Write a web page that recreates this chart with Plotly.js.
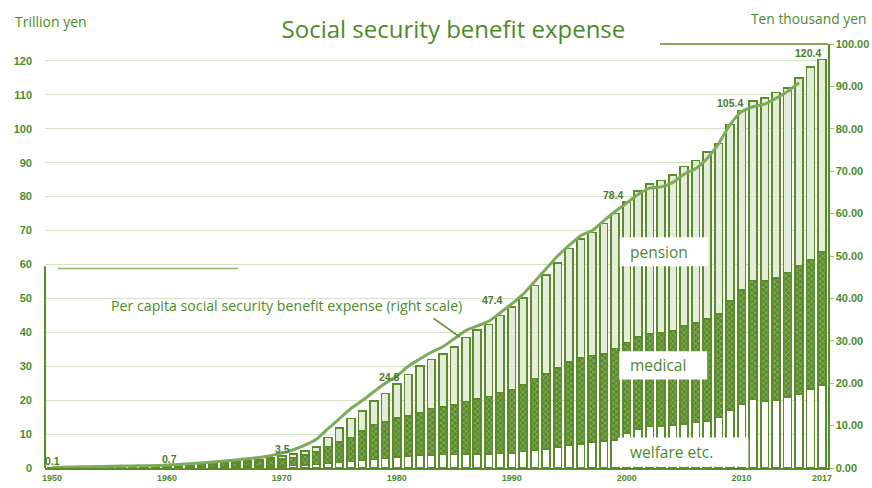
<!DOCTYPE html>
<html>
<head>
<meta charset="utf-8">
<script src="https://cdn.plot.ly/plotly-3.0.1.min.js"></script>
<style>html,body{margin:0;padding:0;background:#fff;}#chart{width:872px;height:488px;}</style>
</head>
<body>
<div id="chart"></div>
<script>
// Fiscal years 1950–2017
const years = [];
for (let y = 1950; y <= 2017; y++) years.push(y);

// Trillion yen (left scale)
const welfare = [
  0.07,0.08,0.09,0.11,0.12,0.15,0.15,0.16,0.18,0.20,
  0.30,0.31,0.33,0.36,0.40,0.43,0.47,0.51,0.55,0.60,
  0.60,0.70,0.85,1.00,1.30,1.60,1.90,2.30,2.50,2.80,
  3.2,3.5,3.8,3.9,4.0,4.0,4.1,4.2,4.2,4.3,
  4.4,4.9,5.3,5.7,6.2,6.7,7.1,7.6,7.9,8.2,
  10.3,11.6,12.2,12.3,12.7,13.0,13.4,13.9,14.9,17.0,
  18.8,20.2,19.8,20.1,20.9,21.7,23.2,24.4
];
const medical = [
  0.06,0.07,0.09,0.12,0.14,0.19,0.20,0.21,0.23,0.25,
  0.27,0.37,0.48,0.60,0.76,0.90,1.08,1.26,1.47,1.67,
  2.06,2.44,2.90,3.70,5.00,6.20,7.10,8.70,10.3,10.7,
  11.6,11.8,12.5,13.6,13.9,14.5,15.5,16.2,16.9,18.0,
  18.7,19.5,21.1,22.1,23.3,24.5,25.4,25.6,25.8,27.0,
  26.7,27.0,27.4,27.5,27.7,28.9,29.3,30.1,30.6,32.2,
  33.6,35.1,35.4,36.0,36.7,38.0,38.3,39.3
];
const pension = [
  0.00,0.01,0.02,0.03,0.04,0.05,0.05,0.06,0.07,0.08,
  0.08,0.11,0.14,0.18,0.23,0.27,0.33,0.41,0.50,0.61,
  0.86,0.96,1.19,1.54,2.72,4.0,5.6,5.9,7.0,8.5,
  10.0,12.3,13.8,14.5,15.7,17.2,18.9,20.3,21.2,22.7,
  24.3,25.7,27.4,29.0,31.0,33.5,35.0,36.2,38.4,39.8,
  41.4,43.0,44.2,45.0,46.0,47.0,48.0,49.1,50.2,52.1,
  53.0,53.0,53.9,54.6,54.5,55.2,56.8,56.7
];

// Ten thousand yen (right scale), 1950–2015
const perCapitaYears = years.slice(0, 66);
const perCapita = [
  0.15,0.19,0.24,0.30,0.34,0.43,0.45,0.48,0.53,0.58,
  0.70,0.84,1.00,1.19,1.43,1.63,1.90,2.18,2.50,2.90,
  3.5,4.3,5.4,6.8,9.2,11.6,14.0,15.9,18.0,20.0,
  21.7,24.0,25.7,27.3,28.6,30.5,32.4,33.5,34.6,36.6,
  38.7,41.0,44.0,47.0,50.0,52.5,54.8,56.0,58.3,60.5,
  62.5,64.5,66.0,66.3,67.3,69.3,70.6,73.0,76.5,81.0,
  84.0,85.2,85.8,87.2,88.8,90.9
];

// Total labels
const labelYears = [1950,1960,1970,1980,1990,2000,2010,2017];
const labelText  = ['0.1','0.7','3.5','24.8','47.4','78.4','105.4','120.4'];
const labelTotal = [0.13,0.65,3.52,24.8,47.4,78.4,105.4,120.4];
const labelShift = [0,3,1,-7,-19,-13,-12,-14];

const xTicks = [1950,1960,1970,1980,1990,2000,2010,2017];

const G = '#5b8c2a';
const TXT = '#4e8a2c';
const FONT = 'Open Sans, sans-serif';

const traces = [
  {type:'bar', x:years, y:welfare, name:'welfare etc.',
   marker:{color:'#ffffff', line:{color:G, width:1.7}}, hoverinfo:'skip'},
  {type:'bar', x:years, y:medical, name:'medical',
   marker:{color:G, line:{color:G, width:1.7},
     pattern:{shape:'x', fgcolor:'#a8c48c', bgcolor:'#5a8b2b', size:4, solidity:0.25}}, hoverinfo:'skip'},
  {type:'bar', x:years, y:pension, name:'pension',
   marker:{color:'#e4ecda', line:{color:G, width:1.7}}, hoverinfo:'skip'},
  {type:'scatter', mode:'lines', x:perCapitaYears, y:perCapita, yaxis:'y2',
   line:{color:'#7dab5c', width:3, shape:'spline', smoothing:0.7}, hoverinfo:'skip'}
];

const annotations = labelYears.map((yr,i)=>({
  x:yr, y:labelTotal[i], xref:'x', yref:'y', text:labelText[i], showarrow:false,
  xanchor:'center', yanchor:'bottom', xshift:labelShift[i], yshift:-1,
  font:{family:'Liberation Sans Narrow, Arial Narrow, sans-serif', size:10.5, color:'#4a7a2a', weight:'bold'}
}));
const lblFont = {family:FONT, size:15.5, color:TXT};
annotations.push(
  {x:2000.1, y:63.8, xref:'x', yref:'y', text:'pension', showarrow:false, xanchor:'left', yanchor:'middle', font:lblFont},
  {x:2000.1, y:30.3, xref:'x', yref:'y', text:'medical', showarrow:false, xanchor:'left', yanchor:'middle', font:lblFont},
  {x:2000.1, y:4.6, xref:'x', yref:'y', text:'welfare etc.', showarrow:false, xanchor:'left', yanchor:'middle', font:lblFont},
  {x:0.308, y:0.384, xref:'paper', yref:'paper', text:'Per capita social security benefit expense (right scale)',
   showarrow:false, xanchor:'center', yanchor:'middle', font:{family:FONT, size:14.2, color:TXT}},
  {x:-0.041, y:1.052, xref:'paper', yref:'paper', text:'Trillion yen', showarrow:false,
   xanchor:'left', yanchor:'middle', font:{family:FONT, size:14, color:TXT}},
  {x:1.051, y:1.059, xref:'paper', yref:'paper', text:'Ten thousand yen', showarrow:false,
   xanchor:'right', yanchor:'middle', font:{family:FONT, size:13.8, color:TXT}}
);

const shapes = [
  // label boxes
  {type:'rect', xref:'x', yref:'y', x0:1999.4, x1:2007.1, y0:59.5, y1:68.0, fillcolor:'#fff', line:{width:0}, layer:'above'},
  {type:'rect', xref:'x', yref:'y', x0:1999.35, x1:2007.0, y0:26.1, y1:34.4, fillcolor:'#fff', line:{width:0}, layer:'above'},
  {type:'rect', xref:'x', yref:'y', x0:1999.25, x1:2010.6, y0:0.4, y1:9.0, fillcolor:'#fff', line:{width:0}, layer:'above'},
  // leader line
  {type:'line', xref:'x', yref:'y', x0:1983.2, y0:44.1, x1:1985.5, y1:38.6, line:{color:G, width:1.5}, layer:'above'},
  // partial axis / frame lines
  {type:'line', xref:'paper', yref:'y', x0:0, x1:0, y0:0, y1:59.5, line:{color:G, width:2}},
  {type:'line', xref:'x', yref:'paper', x0:2002.9, x1:2017.52, y0:1, y1:1, line:{color:G, width:1.5}},
  {type:'line', xref:'x', yref:'y', x0:1950.5, x1:1966.2, y0:58.8, y1:58.8, line:{color:'#8fb86e', width:1.5}}
];

const layout = {
  width:872, height:488,
  margin:{l:45, r:44, t:44, b:20, pad:0},
  paper_bgcolor:'#fff', plot_bgcolor:'#fff',
  barmode:'stack', bargap:0.32, showlegend:false,
  title:{text:'Social security benefit expense', x:0.52, xanchor:'center', y:0.94, yanchor:'middle',
    font:{family:FONT, size:24, color:TXT}},
  xaxis:{range:[1949.39, 2017.52], tickvals:xTicks, ticktext:xTicks.map(String), ticks:'',
    showgrid:false, zeroline:false, showline:true, linecolor:G, linewidth:2,
    tickfont:{family:'Liberation Sans Narrow, Arial Narrow, sans-serif', size:9, color:TXT, weight:'bold'}},
  yaxis:{range:[0,125], tickvals:[0,10,20,30,40,50,60,70,80,90,100,110,120], ticks:'',
    showgrid:true, gridcolor:'#d3e3c3', gridwidth:1, zeroline:false, showline:false,
    ticklabelstandoff:12,
    tickfont:{family:'Liberation Sans, Arial, sans-serif', size:11, color:TXT, weight:'bold'}},
  yaxis2:{range:[0,100], overlaying:'y', side:'right', dtick:10, tickformat:'.2f',
    showgrid:false, zeroline:false, showline:true, linecolor:G, linewidth:1.5,
    ticks:'outside', ticklen:4, tickcolor:'#9cc27e',
    tickfont:{family:'Liberation Sans, Arial, sans-serif', size:11, color:TXT, weight:'bold'}},
  annotations:annotations, shapes:shapes
};

Plotly.newPlot('chart', traces, layout, {displayModeBar:false, staticPlot:true});
</script>
</body>
</html>
